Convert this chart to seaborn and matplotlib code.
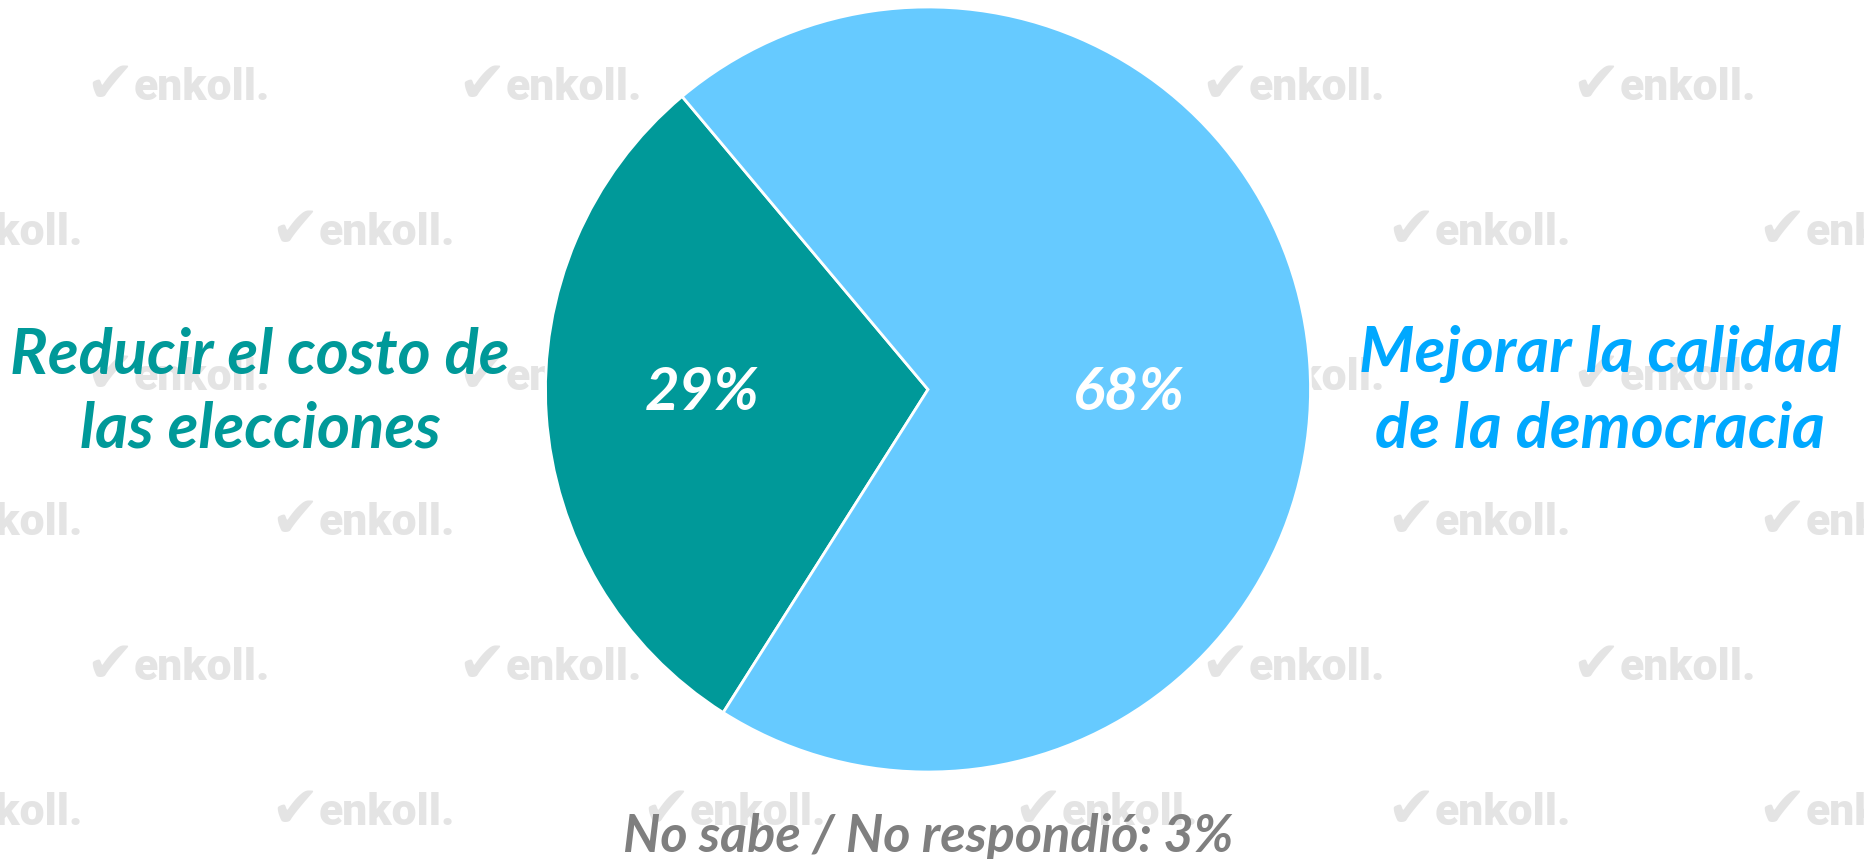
import matplotlib
matplotlib.use("Agg")
import matplotlib.pyplot as plt
import seaborn as sns

# ---- data ----
categories = ["Reducir el costo de\nlas elecciones", "Mejorar la calidad\nde la democracia"]
values = [29, 68]
pie_colors = ["#009999", "#66CAFF"]
label_colors = ["#009999", "#00A8FF"]
footnote = "No sabe / No respondió: 3%"

sns.set_theme(style="white")
plt.rcParams["font.family"] = ["Lato", "DejaVu Sans"]

W, H = 1865, 859
fig = plt.figure(figsize=(W / 100, H / 100), dpi=100)
ax = fig.add_axes([0, 0, 1, 1])
ax.set_xlim(0, W)
ax.set_ylim(0, H)
ax.set_aspect("equal")
ax.axis("off")

def yu(y_img):
    return H - y_img

# ---- watermark grid ----
wm_color = "#e4e4e4"
wm_rows = [100, 245, 390, 535, 680, 825]
wm_cols_a = [178, 550, 921, 1293, 1664]
wm_cols_b = [-9, 363, 734, 1106, 1479, 1850]
for i, yb in enumerate(wm_rows):
    cols = wm_cols_a if i % 2 == 0 else wm_cols_b
    for xc in cols:
        ax.text(xc - 44, yu(yb), "enkoll.", fontsize=32, fontweight="heavy",
                family="Roboto", color=wm_color, ha="left", va="baseline", zorder=0)
        ax.text(xc - 68, yu(yb) - 2, "\u2714", fontsize=42, family="DejaVu Sans",
                color=wm_color, ha="center", va="baseline", zorder=0)

# ---- pie ----
ax.pie(values, colors=pie_colors, startangle=130, counterclock=True,
       center=(928, yu(389.5)), radius=382.5,
       wedgeprops=dict(edgecolor="white", linewidth=2), frame=True)
ax.set_xlim(0, W)
ax.set_ylim(0, H)
ax.axis("off")

# ---- value labels inside ----
val_pos = [(702, 410), (1129, 410)]
for v, (x, yb) in zip(values, val_pos):
    ax.text(x, yu(yb), f"{v}%", fontsize=43, fontweight="bold", style="italic",
            color="white", ha="center", va="baseline", zorder=5)

# ---- category labels ----
cat_pos = [(260, [374, 448]), (1600, [372, 448])]
for cat, col, (x, ybs) in zip(categories, label_colors, cat_pos):
    for line, yb in zip(cat.split("\n"), ybs):
        ax.text(x, yu(yb), line, fontsize=45.5, fontweight="bold", style="italic",
                color=col, ha="center", va="baseline", zorder=5)

# ---- footnote ----
ax.text(928, yu(852), footnote, fontsize=37.5, fontweight="bold", style="italic",
        color="#7F7F7F", ha="center", va="baseline", zorder=5)

fig.savefig("out.png", dpi=100, facecolor="white")
